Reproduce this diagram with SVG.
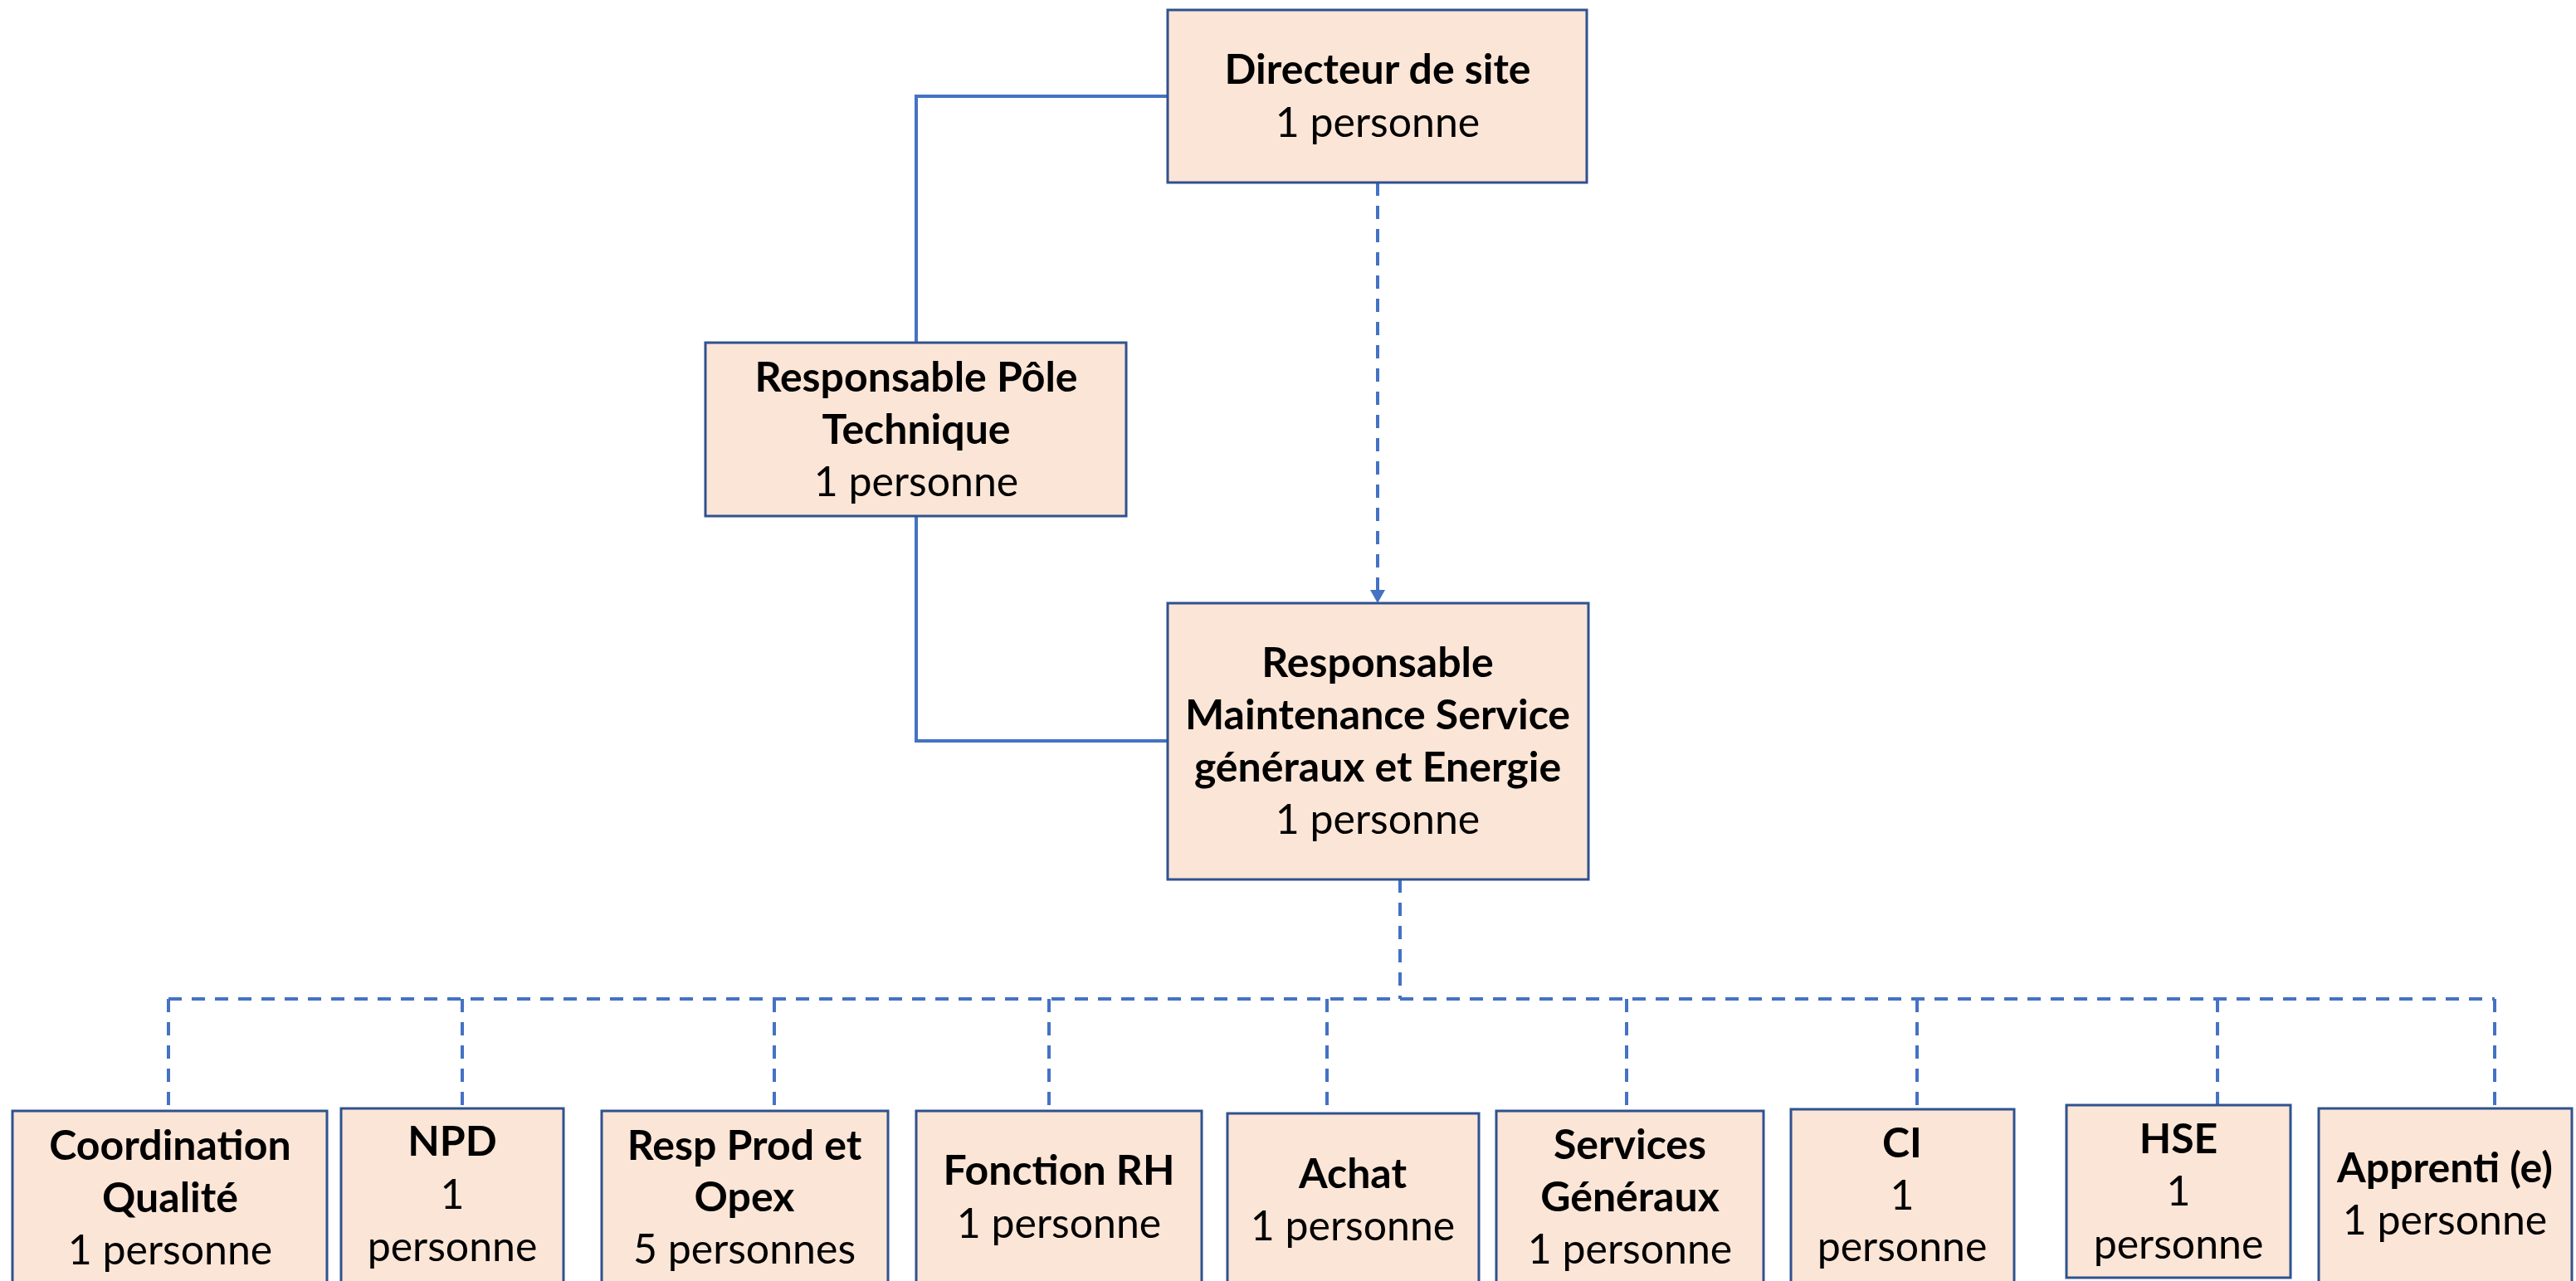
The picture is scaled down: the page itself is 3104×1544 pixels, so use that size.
<svg xmlns="http://www.w3.org/2000/svg" width="3104" height="1544" viewBox="0 0 3104 1544">
<style>
.box{fill:#FBE5D6;stroke:#2F528F;stroke-width:3}
.t{font-family:Lato,"Liberation Sans",sans-serif;font-size:50px;fill:#000;text-anchor:middle}
.b{font-weight:bold}
.solid{fill:none;stroke:#4472C4;stroke-width:4}
.dash{fill:none;stroke:#4472C4;stroke-width:4;stroke-dasharray:16 12}
</style>
<defs>
<marker id="arr" markerUnits="userSpaceOnUse" markerWidth="18" markerHeight="18" refX="0" refY="9" orient="auto">
<path d="M0,0 L16,9 L0,18 z" fill="#4472C4"/>
</marker>
</defs>
<rect width="3104" height="1544" fill="#fff"/>
<g id="connectors">
<path class="solid" d="M1407,116 H1104 V413"/>
<path class="solid" d="M1104,622 V893 H1407"/>
<path class="dash" d="M1660,220 V711" marker-end="url(#arr)"/>
<path class="dash" d="M1687,1060 V1204"/>
<path class="dash" d="M203,1204 H3006"/>
<path class="dash" d="M203,1204 V1339"/>
<path class="dash" d="M557,1204 V1345"/>
<path class="dash" d="M933,1204 V1339"/>
<path class="dash" d="M1264,1204 V1345"/>
<path class="dash" d="M1599,1204 V1345"/>
<path class="dash" d="M1960,1204 V1339"/>
<path class="dash" d="M2310,1204 V1337"/>
<path class="dash" d="M2672,1204 V1335"/>
<path class="dash" d="M3006,1204 V1348"/>
</g>
<g id="directeur">
<rect class="box" x="1407" y="12" width="505" height="208"/>
<text class="t b" x="1660" y="101">Directeur de site</text>
<text class="t" x="1660" y="165">1 personne</text>
</g>
<g id="pole-technique">
<rect class="box" x="850" y="413" width="507" height="209"/>
<text class="t b" x="1104" y="472">Responsable Pôle</text>
<text class="t b" x="1104" y="535">Technique</text>
<text class="t" x="1104" y="598">1 personne</text>
</g>
<g id="maintenance">
<rect class="box" x="1407" y="727" width="507" height="333"/>
<text class="t b" x="1660" y="816">Responsable</text>
<text class="t b" x="1660" y="879">Maintenance Service</text>
<text class="t b" x="1660" y="942">généraux et Energie</text>
<text class="t" x="1660" y="1005">1 personne</text>
</g>
<g id="coordination">
<rect class="box" x="15" y="1339" width="379" height="220"/>
<text class="t b" x="205" y="1398">Coordination</text>
<text class="t b" x="205" y="1461">Qualité</text>
<text class="t" x="205" y="1524">1 personne</text>
</g>
<g id="npd">
<rect class="box" x="411" y="1336" width="268" height="223"/>
<text class="t b" x="545" y="1393">NPD</text>
<text class="t" x="545" y="1457">1</text>
<text class="t" x="545" y="1520">personne</text>
</g>
<g id="resp-prod">
<rect class="box" x="725" y="1339" width="345" height="220"/>
<text class="t b" x="897" y="1398">Resp Prod et</text>
<text class="t b" x="897" y="1460">Opex</text>
<text class="t" x="897" y="1523">5 personnes</text>
</g>
<g id="rh">
<rect class="box" x="1104" y="1339" width="344" height="220"/>
<text class="t b" x="1276" y="1428">Fonction RH</text>
<text class="t" x="1276" y="1492">1 personne</text>
</g>
<g id="achat">
<rect class="box" x="1479" y="1342" width="303" height="217"/>
<text class="t b" x="1630" y="1432">Achat</text>
<text class="t" x="1630" y="1495">1 personne</text>
</g>
<g id="services">
<rect class="box" x="1803" y="1339" width="322" height="220"/>
<text class="t b" x="1964" y="1397">Services</text>
<text class="t b" x="1964" y="1460">Généraux</text>
<text class="t" x="1964" y="1523">1 personne</text>
</g>
<g id="ci">
<rect class="box" x="2158" y="1337" width="269" height="222"/>
<text class="t b" x="2292" y="1395">CI</text>
<text class="t" x="2292" y="1458">1</text>
<text class="t" x="2292" y="1520">personne</text>
</g>
<g id="hse">
<rect class="box" x="2490" y="1332" width="270" height="208"/>
<text class="t b" x="2625" y="1390">HSE</text>
<text class="t" x="2625" y="1453">1</text>
<text class="t" x="2625" y="1517">personne</text>
</g>
<g id="apprenti">
<rect class="box" x="2794" y="1336" width="305" height="223"/>
<text class="t b" x="2946" y="1425">Apprenti (e)</text>
<text class="t" x="2946" y="1488">1 personne</text>
</g>
</svg>
